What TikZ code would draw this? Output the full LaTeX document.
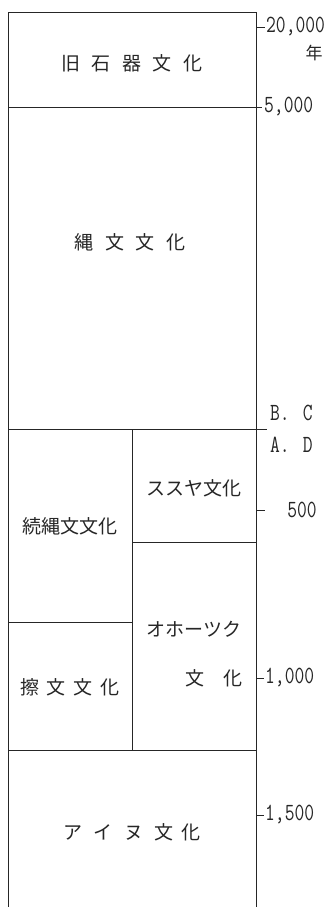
\documentclass[tikz,border=0pt]{standalone}
\usepackage{graphicx}
\usepackage{fontspec}
\newfontfamily\jpfont{Noto Sans CJK JP}
\newcommand\jgap[1]{\hspace{#1pt}}
\newcommand\yrtext[1]{\scalebox{1}[1.3]{#1}}
\tikzset{
  ln/.style={line width=0.9pt, draw=black!85},
  jp/.style={inner sep=0pt, font=\jpfont\fontsize{19}{19}\selectfont, text=black!85},
  yr/.style={inner sep=0pt, font=\ttfamily\fontsize{19}{19}\selectfont, text=black!85},
}
\begin{document}
\begin{tikzpicture}[x=1pt,y=-1pt]
\useasboundingbox (0,0) rectangle (330,907);
% frame
\draw[ln] (8,907) -- (8,12) -- (256,12) -- (256,907);
\draw[ln] (8,107) -- (262,107);
\draw[ln] (8,429) -- (267,429);
\draw[ln] (132,429) -- (132,750);
\draw[ln] (132,542) -- (256,542);
\draw[ln] (8,622) -- (132,622);
\draw[ln] (8,750) -- (256,750);
% ticks
\draw[ln] (256,27) -- (265,27);
\draw[ln] (256,510) -- (265,510);
\draw[ln] (256,678) -- (264,678);
\draw[ln] (256,815) -- (264,815);
% year labels
\node[yr, anchor=west] (y20000) at (266,27) {\yrtext{20,000}};
\node[jp, font=\jpfont\fontsize{17}{17}\selectfont] (nen) at (314,53) {年};
\node[yr, anchor=west] (y5000) at (264,107) {\yrtext{5,000}};
\node[yr, anchor=west] (bc) at (270,413) {\yrtext{B.\hspace{13pt}C}};
\node[yr, anchor=west] (ad) at (270,445) {\yrtext{A.\hspace{13pt}D}};
\node[yr] (y500) at (302,510) {\yrtext{500}};
\node[yr, anchor=west] (y1000) at (265,678) {\yrtext{1,000}};
\node[yr, anchor=west] (y1500) at (265,815) {\yrtext{1,500}};
% culture labels
\node[jp] (kyu) at (132,63) {旧\jgap{11.5}石\jgap{11.5}器\jgap{11.5}文\jgap{11.5}化};
\node[jp] (jomon) at (130,242) {縄\jgap{11.5}文\jgap{11.5}文\jgap{11.5}化};
\node[jp] (susuya) at (194,488) {ススヤ文化};
\node[jp] (zoku) at (70,526) {続縄文文化};
\node[jp] (okh1) at (194,629) {オホーツク};
\node[jp, anchor=east] (okh2) at (243,678) {文　化};
\node[jp] (satsu) at (70,687) {擦\jgap{8}文\jgap{8}文\jgap{8}化};
\node[jp] (ainu) at (132,832) {ア\jgap{11.5}イ\jgap{11.5}ヌ\jgap{11.5}文\jgap{8}化};
\end{tikzpicture}
\end{document}
